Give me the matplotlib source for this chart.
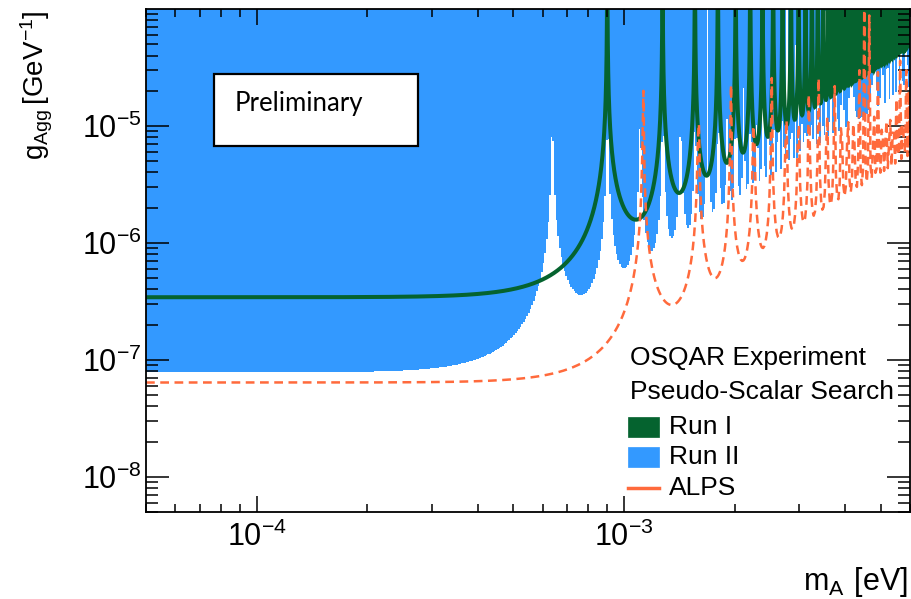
import numpy as np
import matplotlib
matplotlib.use("Agg")
import matplotlib.pyplot as plt
from matplotlib.patches import Rectangle
from matplotlib.lines import Line2D
from matplotlib import ticker

plt.rcParams['font.family'] = ['Liberation Sans', 'DejaVu Sans']
plt.rcParams['mathtext.default'] = 'regular'

# ---------------- values ----------------
x_limits = [5e-5, 6e-3]            # eV
y_limits = [5e-9, 1e-4]            # GeV^-1
series_names = ["Run I", "Run II", "ALPS"]
plateau_g = [3.43e-7, 7.8e-8, 6.4e-8]            # low-mass limit level
first_resonance_m = [9.0e-4, 6.38e-4, 1.127e-3]  # mass of first sensitivity loss
x_tick_values = [1e-4, 1e-3]
y_tick_values = [1e-8, 1e-7, 1e-6, 1e-5]
legend_title = ["OSQAR Experiment", "Pseudo-Scalar Search"]
stamp_text = "Preliminary"

GREEN = '#05632f'
BLUE = '#3399ff'
ORANGE = '#ff6a3c'


def sensitivity(m, g0, m1):
    """LSW limit shape: g0 / |sin(x)/x| with x = pi (m/m1)^2."""
    x = np.pi * (m / m1) ** 2
    s = np.abs(np.sin(x) / x)
    return np.minimum(g0 / np.maximum(s, 1e-12), 1e-2)


fig = plt.figure(figsize=(9.11, 5.99), dpi=100)
ax = fig.add_axes([146 / 911, 1 - 512 / 599, 764 / 911, 503 / 599])
ax.set_xscale('log')
ax.set_yscale('log')

# Run II : filled exclusion region (binned)
edges = np.geomspace(x_limits[0], x_limits[1], 471)
centers = np.sqrt(edges[:-1] * edges[1:])
run2 = sensitivity(centers, plateau_g[1], first_resonance_m[1])
ax.stairs(run2, edges, baseline=1e-2, fill=True, color=BLUE, lw=0, zorder=1)

# Run I : thick line
m_fine = np.geomspace(x_limits[0], x_limits[1], 60000)
run1 = sensitivity(m_fine, plateau_g[0], first_resonance_m[0])
ax.plot(m_fine, run1, color=GREEN, lw=2.9, zorder=2, solid_joinstyle='miter')

# ALPS : dashed line
m_alps = np.geomspace(x_limits[0], x_limits[1], 620)
alps = sensitivity(m_alps, plateau_g[2], first_resonance_m[2])
ax.plot(m_alps, alps, color=ORANGE, lw=1.8, ls=(0, (3.5, 2.2)), zorder=3)

ax.set_xlim(*x_limits)
ax.set_ylim(*y_limits)

fmt = ticker.FuncFormatter(lambda v, p: r'$10^{%d}$' % int(round(np.log10(v))))
ax.xaxis.set_major_locator(ticker.FixedLocator(x_tick_values))
ax.xaxis.set_minor_locator(ticker.LogLocator(base=10, subs=np.arange(2, 10), numticks=30))
ax.xaxis.set_minor_formatter(ticker.NullFormatter())
ax.xaxis.set_major_formatter(fmt)
ax.yaxis.set_major_locator(ticker.FixedLocator(y_tick_values))
ax.yaxis.set_minor_locator(ticker.LogLocator(base=10, subs=np.arange(2, 10), numticks=30))
ax.yaxis.set_minor_formatter(ticker.NullFormatter())
ax.yaxis.set_major_formatter(fmt)

ax.tick_params(axis='x', which='major', direction='in', length=11.5, width=1.1,
               top=True, labelsize=22, pad=7)
ax.tick_params(axis='x', which='minor', direction='in', length=5.8, width=1.1, top=True)
ax.tick_params(axis='y', which='major', direction='in', length=16.5, width=1.1,
               right=True, labelsize=22, pad=3)
ax.tick_params(axis='y', which='minor', direction='in', length=8.6, width=1.1, right=True)
for sp in ax.spines.values():
    sp.set_linewidth(1.3)
    sp.set_zorder(5)
ax.set_axisbelow(False)

# axis titles
fig.text(37 / 911, 1 - 10 / 599, r'$g_{Agg}\,[GeV^{-1}]$', rotation=90,
         ha='center', va='top', fontsize=20)
fig.text(908 / 911, 1 - 565 / 599, r'$m_{A}\ [eV]$', ha='right', va='top', fontsize=22)

# "Preliminary" stamp
def axfrac(px, py):
    return (px - 146) / 764, (512 - py) / 503

x0, y0 = axfrac(214, 146)
x1, y1 = axfrac(418, 74)
ax.add_patch(Rectangle((x0, y0), x1 - x0, y1 - y0, transform=ax.transAxes,
                       facecolor='white', edgecolor='black', lw=1.6, zorder=6))
tx, ty = axfrac(235, 103)
ax.text(tx, ty, stamp_text, transform=ax.transAxes, fontsize=18.5,
        family=['Lato', 'DejaVu Sans'], ha='left', va='center', zorder=7)

# legend (drawn by hand, ROOT style)
leg_fs = 19
tx, ty = axfrac(630, 358)
ax.text(tx, ty, legend_title[0], transform=ax.transAxes, fontsize=leg_fs,
        ha='left', va='center', zorder=7)
tx, ty = axfrac(630, 392)
ax.text(tx, ty, legend_title[1], transform=ax.transAxes, fontsize=leg_fs,
        ha='left', va='center', zorder=7)
bx0, _ = axfrac(628, 0)
bx1, _ = axfrac(659, 0)
for name, col, ytop, ybot, ytxt in [(series_names[0], GREEN, 417, 437, 427),
                                     (series_names[1], BLUE, 447, 467, 457)]:
    _, yb = axfrac(0, ybot)
    _, yt = axfrac(0, ytop)
    ax.add_patch(Rectangle((bx0, yb), bx1 - bx0, yt - yb, transform=ax.transAxes,
                           facecolor=col, edgecolor=col, lw=0.5, zorder=7))
    tx, ty = axfrac(669, ytxt)
    ax.text(tx, ty, name, transform=ax.transAxes, fontsize=leg_fs,
            ha='left', va='center', zorder=7)
_, yl = axfrac(0, 488)
ax.add_line(Line2D([bx0, bx1], [yl, yl], transform=ax.transAxes, color=ORANGE,
                   lw=2.5, zorder=7))
tx, ty = axfrac(669, 488)
ax.text(tx, ty, series_names[2], transform=ax.transAxes, fontsize=leg_fs,
        ha='left', va='center', zorder=7)

fig.savefig('out.png', dpi=100)
